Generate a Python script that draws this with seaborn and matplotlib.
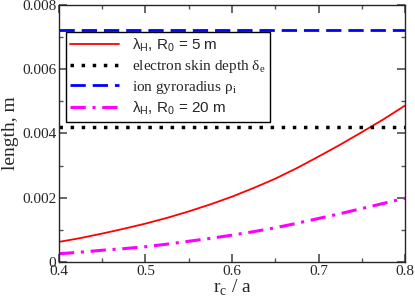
import numpy as np
import pandas as pd
import seaborn as sns
import matplotlib.pyplot as plt
from matplotlib.ticker import MultipleLocator

# values
rc_a = [0.400, 0.425, 0.450, 0.475, 0.500, 0.525, 0.550, 0.575, 0.600,
        0.625, 0.650, 0.675, 0.700, 0.725, 0.750, 0.775, 0.800]
lam_R5 = [0.00062, 0.00074, 0.00088, 0.00103, 0.00119, 0.00137, 0.00157, 0.00179, 0.00203,
          0.00230, 0.00259, 0.00292, 0.00328, 0.00365, 0.00404, 0.00444, 0.00487]
lam_R20 = [0.00025, 0.00030, 0.00036, 0.00041, 0.00047, 0.00055, 0.00064, 0.00073, 0.00083,
           0.00094, 0.00106, 0.00120, 0.00135, 0.00150, 0.00166, 0.00182, 0.00198]
skin_depth = 0.0042
gyroradius = 0.00723

sns.set_theme(style="ticks")
plt.rcParams['font.family'] = ['Liberation Serif', 'DejaVu Serif']
plt.rcParams['mathtext.fontset'] = 'custom'
plt.rcParams['mathtext.rm'] = 'Liberation Serif'

fig = plt.figure(figsize=(4.15, 3.03), dpi=100)
ax = fig.add_axes([0.142, 0.136, 0.834, 0.847])

df5 = pd.DataFrame({'x': rc_a, 'y': lam_R5})
df20 = pd.DataFrame({'x': rc_a, 'y': lam_R20})
dfskin = pd.DataFrame({'x': [rc_a[0], rc_a[-1]], 'y': [skin_depth, skin_depth]})
dfgyro = pd.DataFrame({'x': [rc_a[0], rc_a[-1]], 'y': [gyroradius, gyroradius]})

sns.lineplot(data=df5, x='x', y='y', ax=ax, color='red', lw=1.3,
             label=r'$\mathregular{\lambda_H}$, $\mathregular{R_0}$ = 5 m')
sns.lineplot(data=dfskin, x='x', y='y', ax=ax, color='black', lw=2.5,
             linestyle=(0, (1, 2.2)), label=r'electron skin depth $\mathregular{\delta_e}$')
sns.lineplot(data=dfgyro, x='x', y='y', ax=ax, color='blue', lw=2.0,
             linestyle=(0, (5.5, 2.5)), label=r'ion gyroradius $\mathregular{\rho_i}$')
sns.lineplot(data=df20, x='x', y='y', ax=ax, color='magenta', lw=2.2,
             linestyle=(0, (5, 2.2, 1, 2.2)),
             label=r'$\mathregular{\lambda_H}$, $\mathregular{R_0}$ = 20 m')

ax.set_xlim(0.4, 0.8)
ax.set_ylim(0, 0.008)
ax.xaxis.set_minor_locator(MultipleLocator(0.05))
ax.yaxis.set_minor_locator(MultipleLocator(0.001))
ax.set_xticks([0.4, 0.5, 0.6, 0.7, 0.8])
ax.set_xticklabels(['0.4', '0.5', '0.6', '0.7', '0.8'])
ax.set_yticks([0, 0.002, 0.004, 0.006, 0.008])
ax.set_yticklabels(['0', '0.002', '0.004', '0.006', '0.008'])
ax.tick_params(which='both', direction='in', top=True, right=True, labelsize=11, pad=2,
               color='#555555')
ax.tick_params(which='major', length=6)
ax.tick_params(which='minor', length=3)
for s in ax.spines.values():
    s.set_linewidth(1.0)

ax.set_xlabel(r'r$_\mathregular{c}$ / a', fontsize=14, labelpad=0)
ax.set_ylabel('length, m', fontsize=14, labelpad=2)

leg = ax.legend(loc='upper left', bbox_to_anchor=(0.02, 0.895), fontsize=11,
                frameon=True, fancybox=False, edgecolor='black', framealpha=1,
                handlelength=3.2, borderpad=0.3, labelspacing=0.25, handletextpad=0.8,
                borderaxespad=0)
leg.get_frame().set_linewidth(1.0)
for i, t in enumerate(leg.get_texts()):
    if i in (0, 3):
        t.set_family(['Liberation Sans', 'DejaVu Sans'])

fig.savefig('out.png', dpi=100)
